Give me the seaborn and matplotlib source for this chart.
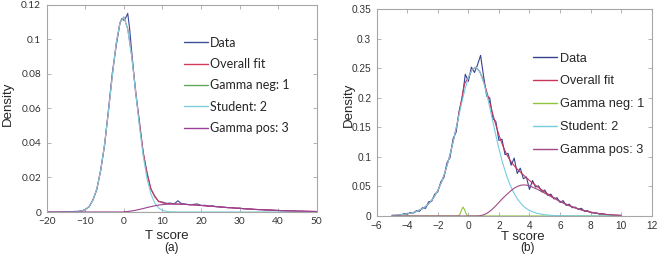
import numpy as np
import matplotlib
matplotlib.use("Agg")
import matplotlib.pyplot as plt
from matplotlib.lines import Line2D
import seaborn as sns

# ---------------- panel (a) ----------------
a_fit_x = [-20, -19, -18, -17, -16, -15, -14, -13, -12, -11, -10, -9, -8, -7, -6, -5, -4, -3, -2, -1,
           0, 1, 2, 3, 4, 5, 6, 7, 8, 9, 10, 11, 12, 13, 14, 15, 16,
           18, 20, 22, 24, 26, 28, 30, 32, 34, 36, 38, 40, 42, 44, 46, 48, 50]
a_student = [0, 0, 0, 0, 0, 0.0001, 0.0001, 0.0001, 0.0002, 0.0005, 0.0014, 0.0032, 0.0069, 0.0135,
             0.0241, 0.0392, 0.0582, 0.0788, 0.0974, 0.1097,
             0.1128, 0.1058, 0.0905, 0.0706, 0.0503, 0.0327, 0.0193, 0.0105, 0.0052, 0.0023, 0.0010,
             0.0004, 0.0001, 0.0001, 0, 0, 0,
             0, 0, 0, 0, 0, 0, 0, 0, 0, 0, 0, 0, 0, 0, 0, 0, 0]
a_gamma_pos = [0, 0, 0, 0, 0, 0, 0, 0, 0, 0, 0, 0, 0, 0, 0, 0, 0, 0, 0, 0,
               0.0001, 0.0003, 0.0006, 0.0010, 0.0015, 0.0020, 0.0026, 0.0031, 0.0036, 0.0040, 0.0043,
               0.0045, 0.0046, 0.0046, 0.0046, 0.0045, 0.0044,
               0.0041, 0.0038, 0.0034, 0.0031, 0.0027, 0.0024, 0.0021, 0.0018, 0.0015, 0.0013, 0.0011,
               0.0009, 0.0007, 0.0006, 0.0005, 0.0004, 0.0003]
a_gamma_neg = [0] * 54
a_overall = [0, 0, 0, 0, 0, 0.0001, 0.0001, 0.0001, 0.0002, 0.0005, 0.0014, 0.0032, 0.0069, 0.0135,
             0.0241, 0.0392, 0.0582, 0.0788, 0.0974, 0.1097,
             0.1129, 0.1061, 0.0911, 0.0716, 0.0518, 0.0347, 0.0219, 0.0136, 0.0088, 0.0063, 0.0053,
             0.0049, 0.0047, 0.0047, 0.0046, 0.0045, 0.0044,
             0.0041, 0.0038, 0.0034, 0.0031, 0.0027, 0.0024, 0.0021, 0.0018, 0.0015, 0.0013, 0.0011,
             0.0009, 0.0007, 0.0006, 0.0005, 0.0004, 0.0003]

a_data_x = [-16, -15, -14, -13, -12, -11, -10, -9, -8, -7, -6, -5, -4, -3, -2, -1, -0.5, 0, 0.5, 1,
            1.5, 2, 3, 4, 5, 6, 7, 8, 9, 10, 11, 12, 13, 14, 15, 16, 17, 18, 19, 20, 21, 22, 23,
            24, 25, 26, 27, 28, 29, 30, 31, 32, 33, 34, 35, 36, 37, 38, 39, 40, 41, 42, 43, 44, 45,
            46, 47, 48, 49, 50]
a_data = [0.0001, 0.0002, 0.0001, 0.0003, 0.0004, 0.0006, 0.0015, 0.0030, 0.0072, 0.0130, 0.0245,
          0.0385, 0.0590, 0.0805, 0.0960, 0.1095, 0.1120, 0.1110, 0.1125, 0.1150,
          0.1060, 0.0935, 0.0700, 0.0530,
          0.0345, 0.0230, 0.0132, 0.0093, 0.0060, 0.0058, 0.0050, 0.0052, 0.0046, 0.0065, 0.0048,
          0.0046, 0.0042, 0.0044, 0.0047, 0.0038, 0.0039, 0.0034, 0.0036, 0.0031, 0.0030, 0.0028,
          0.0025, 0.0026, 0.0022, 0.0023, 0.0019, 0.0018, 0.0017, 0.0015, 0.0014, 0.0014, 0.0011,
          0.0012, 0.0009, 0.0009, 0.0007, 0.0007, 0.0006, 0.0006, 0.0004, 0.0004, 0.0003, 0.0003,
          0.0002, 0.0002]

a_xticks = [-20, -10, 0, 10, 20, 30, 40, 50]
a_yticks = [0, 0.02, 0.04, 0.06, 0.08, 0.1, 0.12]
a_ylabels = ['0', '0.02', '0.04', '0.06', '0.08', '0.1', '0.12']

# ---------------- panel (b) ----------------
b_fit_x = [-5, -4.5, -4, -3.5, -3, -2.75, -2.5, -2.25, -2, -1.75, -1.5, -1.25, -1, -0.75, -0.5, -0.25,
           0, 0.25, 0.5, 0.75, 1, 1.25, 1.5, 1.75, 2, 2.25, 2.5, 2.75, 3, 3.25, 3.5, 3.75, 4,
           4.5, 5, 5.5, 6, 6.5, 7, 7.5, 8, 8.5, 9, 9.5, 10]
b_student = [0.0011, 0.0019, 0.0035, 0.0066, 0.0124, 0.0171, 0.0234, 0.0319, 0.0432, 0.0578, 0.0763,
             0.0988, 0.1252, 0.1543, 0.1841, 0.2119,
             0.2344, 0.2484, 0.2519, 0.2440, 0.2263, 0.2013, 0.1723, 0.1424, 0.1142, 0.0893, 0.0684,
             0.0515, 0.0380, 0.0275, 0.0195, 0.0135, 0.0092,
             0.0045, 0.0021, 0.0010, 0.0005, 0.0003, 0.0002, 0.0001, 0.0001, 0, 0, 0, 0]
b_gamma_pos = [0, 0, 0, 0, 0, 0, 0, 0, 0, 0, 0, 0, 0, 0, 0, 0,
               0, 0, 0, 0.0003, 0.0020, 0.0050, 0.0100, 0.0160, 0.0230, 0.0300, 0.0360, 0.0420,
               0.0470, 0.0505, 0.0525, 0.0525, 0.0510,
               0.0455, 0.0385, 0.0315, 0.0245, 0.0185, 0.0135, 0.0095, 0.0065, 0.0042, 0.0027,
               0.0016, 0.0010]
b_overall = [0.0011, 0.0019, 0.0035, 0.0066, 0.0124, 0.0171, 0.0234, 0.0319, 0.0432, 0.0578, 0.0763,
             0.0988, 0.1252, 0.1543, 0.1900, 0.2240,
             0.2344, 0.2484, 0.2519, 0.2443, 0.2283, 0.2063, 0.1823, 0.1584, 0.1372, 0.1193, 0.1044,
             0.0935, 0.0850, 0.0780, 0.0720, 0.0660, 0.0602,
             0.0500, 0.0406, 0.0325, 0.0250, 0.0188, 0.0137, 0.0096, 0.0066, 0.0042, 0.0027,
             0.0016, 0.0010]
b_neg_x = [-5, -0.65, -0.55, -0.45, -0.35, -0.25, -0.15, -0.05, 10]
b_gamma_neg = [0, 0, 0.003, 0.010, 0.015, 0.011, 0.004, 0, 0]

b_data_x = [-4.6, -4.4, -4.2, -4.0, -3.8, -3.6, -3.4, -3.2, -3.0, -2.8, -2.6, -2.4, -2.2, -2.0,
            -1.8, -1.6, -1.4, -1.2, -1.0, -0.8, -0.6, -0.4, -0.2, 0.0, 0.2, 0.4, 0.6, 0.8, 1.0,
            1.2, 1.4, 1.6, 1.8, 2.0, 2.2, 2.4, 2.6, 2.8, 3.0, 3.2, 3.4, 3.6, 3.8, 4.0, 4.2, 4.4,
            4.6, 4.8, 5.0, 5.2, 5.4, 5.6, 5.8, 6.0, 6.2, 6.4, 6.6, 6.8, 7.0, 7.2, 7.4, 7.6, 7.8,
            8.0, 8.2, 8.4, 8.6, 8.8, 9.0, 9.2, 9.4, 9.6, 9.8, 10.0]
b_data = [0.001, 0.002, 0.004, 0.003, 0.006, 0.005, 0.009, 0.008, 0.014, 0.013, 0.024, 0.025,
          0.037, 0.041, 0.058, 0.065, 0.090, 0.099, 0.131, 0.142, 0.178, 0.199, 0.240, 0.228,
          0.252, 0.243, 0.256, 0.272, 0.236, 0.203, 0.200, 0.165, 0.160, 0.128, 0.130, 0.104,
          0.106, 0.086, 0.098, 0.072, 0.081, 0.063, 0.066, 0.045, 0.060, 0.049, 0.051, 0.041,
          0.044, 0.035, 0.037, 0.029, 0.031, 0.023, 0.026, 0.018, 0.020, 0.014, 0.015, 0.011,
          0.013, 0.008, 0.009, 0.006, 0.005, 0.005, 0.003, 0.004, 0.002, 0.002, 0.001, 0.001,
          0.001, 0.000]

b_xticks = [-6, -4, -2, 0, 2, 4, 6, 8, 10, 12]
b_yticks = [0, 0.05, 0.1, 0.15, 0.2, 0.25, 0.3, 0.35]
b_ylabels = ['0', '0.05', '0.1', '0.15', '0.2', '0.25', '0.3', '0.35']

labels = ['Data', 'Overall fit', 'Gamma neg: 1', 'Student: 2', 'Gamma pos: 3']
colors_a = ['#3a4f9a', '#d43a5a', '#5faa5f', '#7ccfdf', '#9c3f96']
colors_b = ['#34428f', '#c8365a', '#8cc43c', '#74cde0', '#a04a86']

sns.set_style("white")
plt.rcParams['font.family'] = ['Liberation Sans', 'DejaVu Sans']

fig = plt.figure(figsize=(6.59, 2.62), dpi=100)
ax_a = fig.add_axes([0.0709, 0.1908, 0.4097, 0.7912])
ax_b = fig.add_axes([0.5716, 0.1756, 0.4173, 0.7890])

lw = 0.8

# panel (a) lines, drawn in legend order
sns.lineplot(x=a_data_x, y=a_data, ax=ax_a, color=colors_a[0], lw=lw)
sns.lineplot(x=a_fit_x, y=a_overall, ax=ax_a, color=colors_a[1], lw=lw)
sns.lineplot(x=a_fit_x, y=a_gamma_neg, ax=ax_a, color=colors_a[2], lw=lw)
sns.lineplot(x=a_fit_x, y=a_student, ax=ax_a, color=colors_a[3], lw=lw)
sns.lineplot(x=a_fit_x, y=a_gamma_pos, ax=ax_a, color=colors_a[4], lw=lw)

# panel (b) lines
sns.lineplot(x=b_data_x, y=b_data, ax=ax_b, color=colors_b[0], lw=lw)
sns.lineplot(x=b_fit_x, y=b_overall, ax=ax_b, color=colors_b[1], lw=lw)
sns.lineplot(x=b_neg_x, y=b_gamma_neg, ax=ax_b, color=colors_b[2], lw=lw)
sns.lineplot(x=b_fit_x, y=b_student, ax=ax_b, color=colors_b[3], lw=lw)
sns.lineplot(x=b_fit_x, y=b_gamma_pos, ax=ax_b, color=colors_b[4], lw=lw)

ax_a.set_xlim(-20, 50)
ax_a.set_ylim(0, 0.12)
ax_a.set_xticks(a_xticks)
ax_a.set_yticks(a_yticks)
ax_a.set_yticklabels(a_ylabels)

ax_b.set_xlim(-6, 12)
ax_b.set_ylim(0, 0.35)
ax_b.set_xticks(b_xticks)
ax_b.set_yticks(b_yticks)
ax_b.set_yticklabels(b_ylabels)

panels = [(ax_a, colors_a, 'Lato', 9, (0.49, 0.87), 0.75),
          (ax_b, colors_b, 'Liberation Sans', 9.2, (0.55, 0.815), 0.85)]
for ax, cols, font, lsize, anchor, lspace in panels:
    for sp in ax.spines.values():
        sp.set_color('#a6a6a6')
        sp.set_linewidth(0.8)
    ax.tick_params(direction='in', length=3, width=0.6, color='#a6a6a6',
                   top=True, right=True, bottom=True, left=True,
                   labelsize=7.3, labelcolor='#333333')
    ax.tick_params(axis='y', pad=4)
    ax.tick_params(axis='x', pad=3.5)
    for t in ax.get_xticklabels() + ax.get_yticklabels():
        t.set_family([font, 'DejaVu Sans'])
    ax.set_xlabel('T score', fontsize=9.5)
    ax.set_ylabel('Density', fontsize=9.5)
    handles = [Line2D([], [], color=c, lw=1.0) for c in cols]
    ax.legend(handles=handles, labels=labels, loc='upper left', bbox_to_anchor=anchor,
              frameon=False, prop={'family': [font, 'DejaVu Sans'], 'size': lsize},
              handlelength=1.9, handletextpad=0.2, labelspacing=lspace, borderaxespad=0)

ax_a.xaxis.set_label_coords(0.446, -0.085)
ax_b.xaxis.set_label_coords(0.53, -0.075)
ax_a.yaxis.set_label_coords(-0.12, 0.52)
ax_b.yaxis.set_label_coords(-0.08, 0.54)

fig.text(0.2605, 0.053, '(a)', ha='center', va='center', fontsize=8.5, color='#222222')
fig.text(0.8010, 0.053, '(b)', ha='center', va='center', fontsize=8.5, color='#222222')

fig.savefig('out.png', dpi=100)
